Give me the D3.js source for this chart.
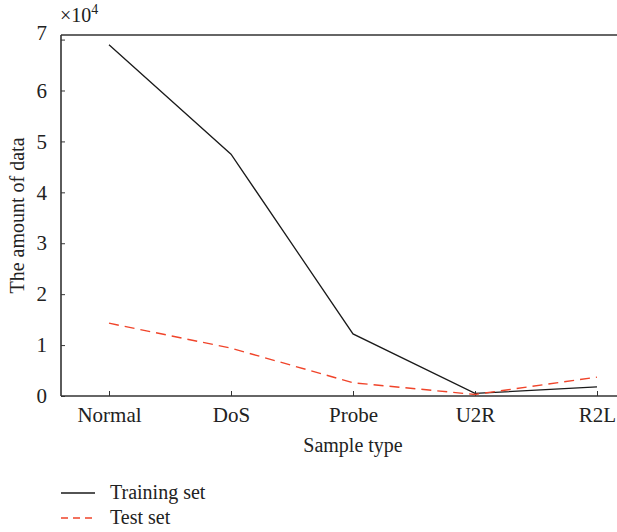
<!DOCTYPE html>
<html lang="en">
<head>
    <meta charset="utf-8" />
    <script src="https://d3js.org/d3.v7.min.js"></script>
    <style>
        body { margin: 0; background: #fff; }
        text { font-family: "Liberation Serif", "DejaVu Serif", serif; fill: #222; }
    </style>
</head>
<body>
    <script>
        var width = 617, height = 532;

        // data (x10^4)
        var categories = ["Normal", "DoS", "Probe", "U2R", "R2L"];
        var trainingValues = [6.9, 4.75, 1.22, 0.05, 0.18];
        var testValues = [1.43, 0.94, 0.26, 0.03, 0.37];
        var yTicks = [0, 1, 2, 3, 4, 5, 6, 7];

        // plot box (top line, left axis, bottom axis)
        var plotLeft = 61, plotTop = 35, plotBottom = 396, plotRight = 620;

        var svg = d3.select("body").append("svg")
            .attr("width", width)
            .attr("height", height);

        var x = d3.scalePoint()
            .domain(categories)
            .range([109, 597]);

        var y = d3.scaleLinear()
            .domain([0, 7.09])
            .range([plotBottom, plotTop]);

        svg.append("line")
            .attr("x1", plotLeft).attr("x2", plotRight)
            .attr("y1", plotTop).attr("y2", plotTop)
            .attr("stroke", "#333").attr("stroke-width", 1.6);

        var yAxis = svg.append("g")
            .attr("transform", "translate(" + plotLeft + ",0)")
            .call(d3.axisLeft(y).tickValues(yTicks).tickSize(-4).tickPadding(14).tickFormat(d3.format("d")));
        yAxis.select(".domain").attr("d", "M0," + plotTop + "V" + plotBottom).attr("stroke", "#333").attr("stroke-width", 1.6);
        yAxis.selectAll(".tick line").attr("stroke", "#333");
        yAxis.selectAll(".tick text")
            .style("font-size", "21px")
            .attr("fill", "#222")
            .attr("font-family", "Liberation Serif")
            .attr("dy", function(d) { return d === 7 ? "0em" : "0.32em"; });

        var xAxis = svg.append("g")
            .attr("transform", "translate(0," + plotBottom + ")")
            .call(d3.axisBottom(x).tickSize(-5).tickPadding(11));
        xAxis.select(".domain").attr("d", "M" + plotLeft + ",0H" + plotRight).attr("stroke", "#333").attr("stroke-width", 1.6);
        xAxis.selectAll(".tick line").attr("stroke", "#333");
        xAxis.selectAll(".tick text")
            .style("font-size", "21px")
            .attr("fill", "#222")
            .attr("font-family", "Liberation Serif");

        // x10^4 multiplier
        var mult = svg.append("text")
            .attr("x", 60).attr("y", 22)
            .style("font-size", "20px");
        mult.append("tspan").text("\u00d710");
        mult.append("tspan").attr("dy", -8).style("font-size", "14px").text("4");

        // axis titles
        svg.append("text")
            .attr("x", 353).attr("y", 452)
            .attr("text-anchor", "middle")
            .style("font-size", "20px")
            .text("Sample type");

        svg.append("text")
            .attr("transform", "translate(24," + ((plotTop + plotBottom) / 2) + ") rotate(-90)")
            .attr("text-anchor", "middle")
            .style("font-size", "20px")
            .text("The amount of data");

        // lines
        var line = d3.line()
            .x(function(d, i) { return x(categories[i]); })
            .y(function(d) { return y(d); });

        svg.append("path")
            .datum(trainingValues)
            .attr("d", line)
            .attr("fill", "none")
            .attr("stroke", "#1a1a1a")
            .attr("stroke-width", 1.3);

        svg.append("path")
            .datum(testValues)
            .attr("d", line)
            .attr("fill", "none")
            .attr("stroke", "#f0442a")
            .attr("stroke-width", 1.4)
            .attr("stroke-dasharray", "10,6");

        // legend
        var legend = [
            { name: "Training set", color: "#1a1a1a", dash: null },
            { name: "Test set", color: "#f0442a", dash: "7,5" }
        ];
        var lg = svg.append("g");
        legend.forEach(function(d, i) {
            var ly = 493 + i * 25;
            lg.append("line")
                .attr("x1", 61).attr("x2", 95)
                .attr("y1", ly).attr("y2", ly)
                .attr("stroke", d.color)
                .attr("stroke-width", 1.4)
                .attr("stroke-dasharray", d.dash);
            lg.append("text")
                .attr("x", 110).attr("y", ly + 6)
                .style("font-size", "20px")
                .text(d.name);
        });
    </script>
</body>
</html>
